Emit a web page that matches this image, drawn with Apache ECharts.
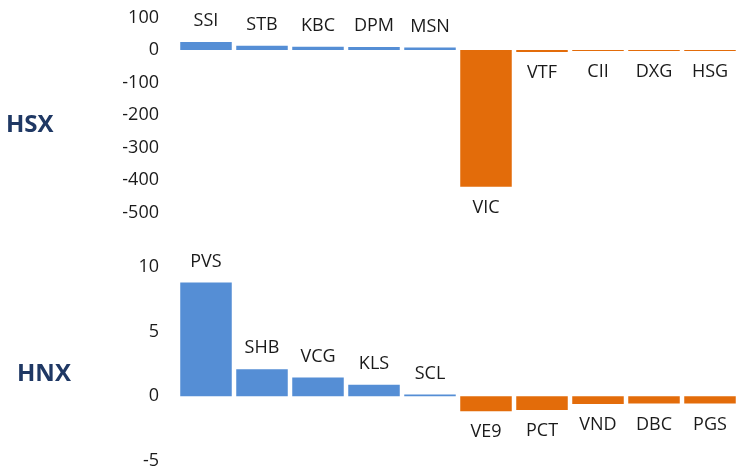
<!DOCTYPE html>
<html>
<head>
<meta charset="utf-8">
<script src="https://cdn.jsdelivr.net/npm/echarts@6/dist/echarts.min.js"></script>
<style>
  html, body { margin: 0; padding: 0; background: #fff; }
  #chart { width: 738px; height: 470px; }
</style>
</head>
<body>
<div id="chart"></div>
<script>
// Données HSX
const hsxCodes = ['SSI', 'STB', 'KBC', 'DPM', 'MSN', 'VIC', 'VTF', 'CII', 'DXG', 'HSG'];
const hsxValues = [25, 13, 10, 9, 8, -421, -6, -3, -3, -3];
const hsxTicks = { min: -500, max: 100, interval: 100 };

// Données HNX
const hnxCodes = ['PVS', 'SHB', 'VCG', 'KLS', 'SCL', 'VE9', 'PCT', 'VND', 'DBC', 'PGS'];
const hnxValues = [8.8, 2.1, 1.45, 0.9, 0.15, -1.15, -1.05, -0.6, -0.55, -0.55];
const hnxTicks = { min: -5, max: 10, interval: 5 };

const BLUE = '#558ED5';
const ORANGE = '#E36C0A';
const FONT = '"Open Sans", "Noto Sans", sans-serif';

// Positif en bleu au-dessus, négatif en orange en dessous
function barData(values) {
  return values.map(v => ({
    value: v,
    itemStyle: { color: v >= 0 ? BLUE : ORANGE },
    label: { position: v >= 0 ? 'top' : 'bottom' },
  }));
}

function makeSeries(codes, values, idx) {
  return {
    type: 'bar',
    xAxisIndex: idx,
    yAxisIndex: idx,
    barCategoryGap: '8%',
    data: barData(values),
    label: {
      show: true,
      distance: 12,
      formatter: p => codes[p.dataIndex],
      color: '#1a1a1a',
      fontFamily: FONT,
      fontSize: 18,
    },
  };
}

function makeYAxis(ticks, idx) {
  return {
    type: 'value',
    gridIndex: idx,
    min: ticks.min,
    max: ticks.max,
    interval: ticks.interval,
    axisLine: { show: false },
    axisTick: { show: false },
    splitLine: { show: false },
    axisLabel: { color: '#1a1a1a', fontFamily: FONT, fontSize: 18, margin: 19 },
  };
}

function makeXAxis(codes, idx) {
  return {
    type: 'category',
    gridIndex: idx,
    data: codes,
    axisLine: { show: false },
    axisTick: { show: false },
    axisLabel: { show: false },
  };
}

const chart = echarts.init(document.getElementById('chart'));
chart.setOption({
  backgroundColor: '#fff',
  animation: false,
  graphic: [
    { type: 'text', left: 6, top: 113, style: { text: 'HSX', fill: '#1F3864', font: 'bold 24px ' + FONT } },
    { type: 'text', left: 17, top: 362, style: { text: 'HNX', fill: '#1F3864', font: 'bold 24px ' + FONT } },
  ],
  grid: [
    { left: 178, right: -6, top: 17.5, height: 195 },
    { left: 178, right: -6, top: 267, height: 196.5 },
  ],
  xAxis: [makeXAxis(hsxCodes, 0), makeXAxis(hnxCodes, 1)],
  yAxis: [makeYAxis(hsxTicks, 0), makeYAxis(hnxTicks, 1)],
  series: [makeSeries(hsxCodes, hsxValues, 0), makeSeries(hnxCodes, hnxValues, 1)],
});
</script>
</body>
</html>
